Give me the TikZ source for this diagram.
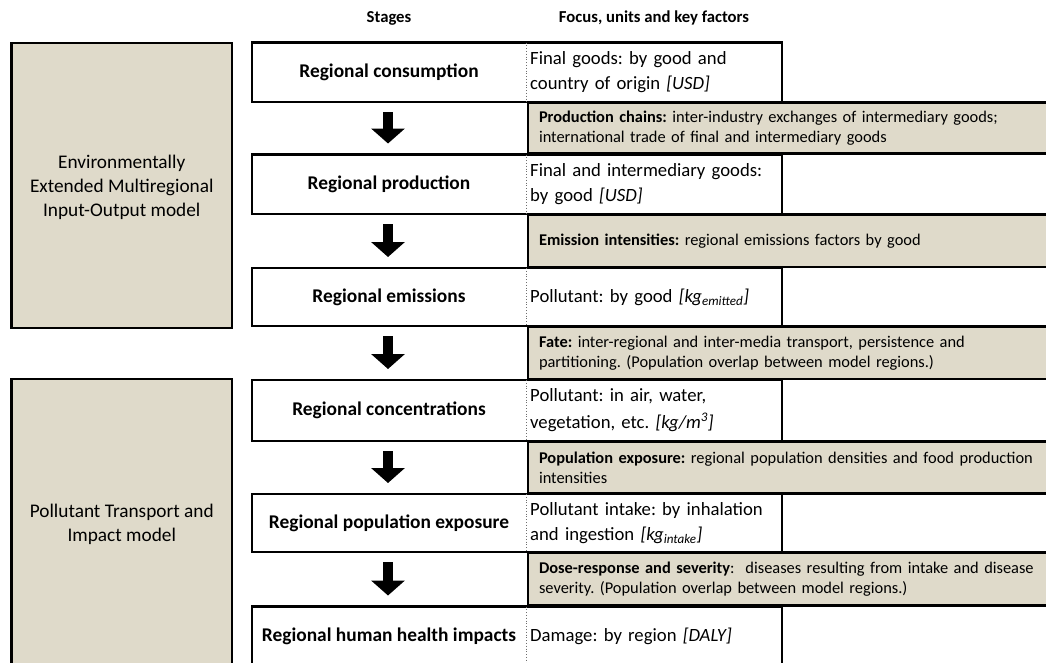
\documentclass[tikz,border=0pt]{standalone}
\usepackage{fontspec}
\setmainfont{Carlito}
\usetikzlibrary{arrows.meta}
\definecolor{sand}{RGB}{223,218,202}
\definecolor{dotgray}{RGB}{110,110,110}
\frenchspacing

\begin{document}
\begin{tikzpicture}[x=1pt,y=-1pt,
  framebox/.style={draw=black, line width=2.2pt, outer sep=0pt, inner sep=0pt, anchor=north west},
  modelbox/.style={framebox, fill=sand},
  modeltext/.style={align=center, font=\fontsize{19.3}{24}\selectfont},
  rowbox/.style={framebox, fill=white, minimum width=530},
  stagetext/.style={font=\bfseries\fontsize{19.4}{22}\selectfont},
  unittext/.style={anchor=west, inner sep=3pt, align=left, text width=250,
    font=\fontsize{18.7}{24.5}\selectfont},
  factorbox/.style={framebox, fill=sand, minimum width=572, inner xsep=11pt,
    text width=550, align=left, font=\fontsize{16.4}{20}\selectfont},
  header/.style={font=\bfseries\fontsize{16.7}{19}\selectfont},
  divider/.style={draw=dotgray, line width=1pt, dash pattern=on 1pt off 1.8pt},
  flowarrow/.style={draw=black, line width=10pt, -{Triangle[width=33pt,length=15pt]},
    shorten <=10pt, shorten >=11pt}
]
\useasboundingbox (0,0) rectangle (1046,662);

% column headers
\node[header] (hstages) at (389,18) {Stages};
\node[header] (hfocus) at (654,18) {Focus, units and key factors};

% reference lines for the stage column
\coordinate (axis) at (388,0);
\coordinate (div) at (526,0);

% model blocks on the left
\node[modelbox, minimum width=220.5, minimum height=285] (eeio) at (11.5,43) {};
\node[modeltext] (eeiotext) at ([yshift=-2]eeio.center) {Environmentally\\Extended Multiregional\\Input-Output model};
\node[modelbox, minimum width=220.5, minimum height=290] (ptim) at (11.5,379) {};
\node[modeltext] (ptimtext) at (ptim.center) {Pollutant Transport and\\Impact model};

% factor boxes between the stages
\node[factorbox, minimum height=51] (f1) at (528,102.5)
  {\textbf{Production chains:} inter-industry exchanges of intermediary goods;\\international trade of final and intermediary goods};
\node[factorbox, minimum height=52.5] (f2) at (528,214.5)
  {\textbf{Emission intensities:} regional emissions factors by good};
\node[factorbox, minimum height=52.5] (f3) at (528,326.5)
  {\textbf{Fate:} inter-regional and inter-media transport, persistence and\\partitioning. (Population overlap between model regions.)};
\node[factorbox, minimum height=52] (f4) at (528,441.5)
  {\textbf{Population exposure:} regional population densities and food production\\intensities};
\node[factorbox, minimum height=53] (f5) at (528,552.5)
  {\textbf{Dose-response and severity}:\ \ diseases resulting from intake and disease\\severity. (Population overlap between model regions.)};

% stage rows
\node[rowbox, minimum height=59.5] (r1) at (252,42.5) {};
\node[rowbox, minimum height=59.5] (r2) at (252,154.5) {};
\node[rowbox, minimum height=58] (r3) at (252,268) {};
\node[rowbox, minimum height=61] (r4) at (252,380) {};
\node[rowbox, minimum height=58] (r5) at (252,494) {};
\node[rowbox, minimum height=62] (r6) at (252,606.5) {};

\foreach \r in {r1,r2,r3,r4,r5,r6}
  \draw[divider] (\r.north -| div) -- (\r.south -| div);

% stage names
\node[stagetext] (s1) at (389,72) {Regional consumption};
\node[stagetext] (s2) at (389,184) {Regional production};
\node[stagetext] (s3) at (389,297) {Regional emissions};
\node[stagetext] (s4) at (389,410) {Regional concentrations};
\node[stagetext] (s5) at (389,523) {Regional population exposure};
\node[stagetext] (s6) at (389,636) {Regional human health impacts};

% focus and units
\node[unittext] (u1) at (527,72) {Final goods: by good and\\country of origin \textit{[USD]}};
\node[unittext] (u2) at (527,184) {Final and intermediary goods:\\by good \textit{[USD]}};
\node[unittext] (u3) at (527,297) {Pollutant: by good \textit{[kg\textsubscript{emitted}]}};
\node[unittext] (u4) at (527,410) {Pollutant: in air, water,\\[2pt]vegetation, etc. \textit{[kg/m\textsuperscript{3}]}};
\node[unittext] (u5) at (527,523) {Pollutant intake: by inhalation\\and ingestion \textit{[kg\textsubscript{intake}]}};
\node[unittext] (u6) at (527,636) {Damage: by region \textit{[DALY]}};

% flow between stages
\draw[flowarrow] (r1.south -| axis) -- (r2.north -| axis);
\draw[flowarrow] (r2.south -| axis) -- (r3.north -| axis);
\draw[flowarrow] (r3.south -| axis) -- (r4.north -| axis);
\draw[flowarrow] (r4.south -| axis) -- (r5.north -| axis);
\draw[flowarrow] (r5.south -| axis) -- (r6.north -| axis);
\end{tikzpicture}
\end{document}
